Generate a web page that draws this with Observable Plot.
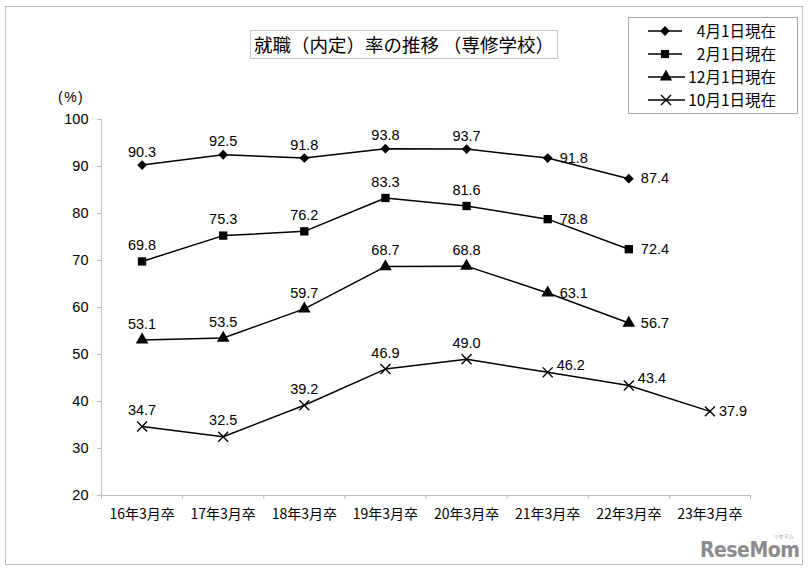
<!DOCTYPE html>
<html>
<head>
<meta charset="utf-8">
<script src="https://cdn.jsdelivr.net/npm/d3@7"></script>
<script src="https://cdn.jsdelivr.net/npm/@observablehq/plot@0.6"></script>
<style>
  html, body { margin: 0; padding: 0; background: #fff; }
  #wrap { position: relative; width: 811px; height: 573px; overflow: hidden; background: #fff; }
  #frame { position: absolute; left: 5px; top: 6px; width: 798px; height: 559px; border: 1px solid #bdbdbd; box-sizing: border-box; }
  #chart { position: absolute; left: 0; top: 0; }
  #title { position: absolute; left: 250px; top: 30px; width: 308px; height: 29px; border: 1px solid #c8c8c8; box-sizing: border-box;
           font-family: "Noto Sans CJK JP", sans-serif; font-size: 18.5px; line-height: 27px; text-align: center; color: #000; white-space: nowrap; }
  #unit { position: absolute; left: 58px; top: 89px; font-family: "Liberation Sans", Arial, sans-serif; font-size: 14px; letter-spacing: 1.5px; color: #000; }
  #legend { position: absolute; left: 628px; top: 17px; }
  #logo { position: absolute; left: 700px; top: 538px; font-family: "DejaVu Sans Condensed", "DejaVu Sans", sans-serif; font-weight: bold;
          font-size: 21px; line-height: 24px; color: #8c8c8c; letter-spacing: -0.5px; }
  #logo small { position: absolute; right: 6px; top: -5px; font-size: 5px; line-height: 5px; font-family: "Noto Sans CJK JP", sans-serif; font-weight: normal; letter-spacing: 0; }
</style>
</head>
<body>
<div id="wrap">
  <div id="frame"></div>
  <div id="chart"></div>
  <div id="title">就職（内定）率の推移 （専修学校）</div>
  <div id="unit">(%)</div>
  <div id="legend"></div>
  <div id="logo">ReseMom<small>リセマム</small></div>
</div>
<script>
// ---- data ----
const categories = ["16年3月卒","17年3月卒","18年3月卒","19年3月卒","20年3月卒","21年3月卒","22年3月卒","23年3月卒"];
const seriesNames = ["4月1日現在","2月1日現在","12月1日現在","10月1日現在"];
const apr1 = [90.3, 92.5, 91.8, 93.8, 93.7, 91.8, 87.4];
const feb1 = [69.8, 75.3, 76.2, 83.3, 81.6, 78.8, 72.4];
const dec1 = [53.1, 53.5, 59.7, 68.7, 68.8, 63.1, 56.7];
const oct1 = [34.7, 32.5, 39.2, 46.9, 49.0, 46.2, 43.4, 37.9];
const yTicks = [20, 30, 40, 50, 60, 70, 80, 90, 100];

// ---- build table ----
const seriesValues = [apr1, feb1, dec1, oct1];
const symbols = ["diamond2", "square", "triangle", "times"];
const rows = [];
seriesValues.forEach((vals, s) => vals.forEach((v, i) => rows.push({series: seriesNames[s], s, i, v})));

const indices = categories.map((_, i) => i);
const bounds = categories.map((_, i) => i - 0.5).concat([categories.length - 0.5]);

const numFont = '"Liberation Sans", Arial, sans-serif';
const cjkFont = '"Noto Sans CJK JP", sans-serif';
const gray = "#bfbfbf";

// label placement: last points labelled to the right, others above
const isRight = d => d.i >= 5;
const rightDy = d => (d.s === 3 && d.i < 7) ? -7 : 0;

const marks = [
  Plot.ruleX([-0.5], {stroke: gray}),
  Plot.ruleY([20], {stroke: gray}),
  Plot.axisY({ticks: yTicks, tickSize: 4, tickPadding: 9, stroke: gray, fill: "#000", fontSize: 14.5, fontFamily: numFont, label: null}),
  Plot.axisX({ticks: bounds, tickSize: 4, tickFormat: () => "", stroke: gray, label: null}),
  Plot.axisX({ticks: indices, tickSize: 0, tickPadding: 14, tickFormat: i => categories[i], fontSize: 14, fontFamily: cjkFont, fill: "#000", label: null, style: {letterSpacing: "1px"}}),
];
seriesNames.forEach((name, s) => {
  const data = rows.filter(d => d.s === s);
  marks.push(Plot.line(data, {x: "i", y: "v", stroke: "#000", strokeWidth: 1.5}));
  if (symbols[s] === "times") {
    marks.push(Plot.dot(data, {x: "i", y: "v", symbol: "times", r: 4.6, stroke: "#000", strokeWidth: 1.4, fill: "none"}));
  } else {
    marks.push(Plot.dot(data, {x: "i", y: "v", symbol: symbols[s], r: s === 0 ? 4.4 : 4.7, fill: "#000", stroke: "none"}));
  }
  const above = data.filter(d => !isRight(d));
  const right = data.filter(d => isRight(d));
  marks.push(Plot.text(above, {x: "i", y: "v", text: d => d.v.toFixed(1), dy: s === 0 ? -13 : -16, fontSize: 14.5, fontFamily: numFont, fill: "#000"}));
  const rg = d3.group(right, rightDy);
  for (const [dy, arr] of rg) {
    marks.push(Plot.text(arr, {x: "i", y: "v", text: d => d.v.toFixed(1), dx: s === 3 ? 9 : 12, dy, textAnchor: "start", fontSize: 14.5, fontFamily: numFont, fill: "#000"}));
  }
});

const chart = Plot.plot({
  width: 811,
  height: 573,
  marginLeft: 101,
  marginRight: 61,
  marginTop: 119,
  marginBottom: 78,
  style: {background: "transparent", overflow: "visible"},
  x: {type: "linear", domain: [-0.5, categories.length - 0.5], axis: null},
  y: {domain: [20, 100], axis: null},
  marks
});
document.getElementById("chart").appendChild(chart);

// ---- legend ----
const lw = 170, lh = 97;
const lg = d3.select("#legend").append("svg").attr("width", lw).attr("height", lh);
lg.append("rect").attr("x", 0.5).attr("y", 0.5).attr("width", lw - 1).attr("height", lh - 1).attr("fill", "#fff").attr("stroke", "#a6a6a6");
const symMap = {diamond2: d3.symbolDiamond2, square: d3.symbolSquare, triangle: d3.symbolTriangle, times: d3.symbolTimes};
seriesNames.forEach((name, s) => {
  const cy = 14 + s * 23;
  const g = lg.append("g");
  g.append("line").attr("x1", 20).attr("x2", s >= 2 ? 57 : 54).attr("y1", cy).attr("y2", cy).attr("stroke", "#000").attr("stroke-width", 1.5);
  const r = s === 0 ? 4.4 : 4.6;
  const p = d3.symbol(symMap[symbols[s]], Math.PI * r * r)();
  const cx = s >= 2 ? 38 : 37;
  if (symbols[s] === "times") g.append("path").attr("d", p).attr("transform", `translate(${cx},${cy})`).attr("fill", "none").attr("stroke", "#000").attr("stroke-width", 1.4);
  else g.append("path").attr("d", p).attr("transform", `translate(${cx},${cy})`).attr("fill", "#000");
  g.append("text").attr("x", 148).attr("y", cy).attr("dy", "0.36em").attr("text-anchor", "end")
    .attr("font-family", '"Noto Sans CJK JP", sans-serif').attr("font-size", 15.5).text(name);
});
</script>
</body>
</html>
